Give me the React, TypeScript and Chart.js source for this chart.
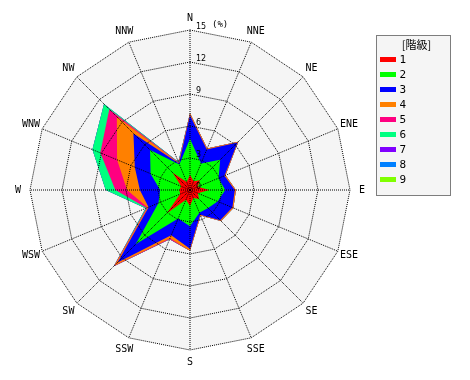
import React, { useEffect, useRef } from "react";
import { Chart, registerables } from "chart.js";

Chart.register(...registerables);

const DIRECTIONS = ["N", "NNE", "NE", "ENE", "E", "ESE", "SE", "SSE", "S", "SSW", "SW", "WSW", "W", "WNW", "NW", "NNW"];
const CLASS_LABELS = ["1", "2", "3", "4", "5", "6", "7", "8", "9"];
const CLASS_COLORS = ["#ff0000", "#00ff00", "#0000ff", "#ff8000", "#ff0080", "#00ff80", "#8000ff", "#0080ff", "#80ff00"];
const TICK_VALUES = [0, 3, 6, 9, 12, 15];
const LEGEND_TITLE = "[階級]";
const UNIT_LABEL = "(%)";

// frequency (%) of each class, per direction (N ... NNW)
const CLASS1 = [1.4, 0.9, 1.3, 0.8, 1.8, 0.8, 1.2, 0.8, 1.5, 1.0, 3.1, 1.0, 1.0, 0.9, 2.3, 0.8];
const CLASS2 = [3.4, 1.8, 2.7, 2.1, 1.5, 2.0, 1.2, 1.5, 1.9, 1.9, 4.1, 2.2, 1.8, 3.1, 3.0, 1.8];
const CLASS3 = [2.2, 1.4, 2.3, 0.6, 0.9, 1.5, 1.6, 0.2, 2.1, 1.7, 2.4, 1.0, 1.9, 1.6, 2.2, 0.1];
const CLASS4 = [0.2, 0.1, 0.1, 0.1, 0.1, 0.1, 0.1, 0.1, 0.2, 0.3, 0.4, 0.1, 1.2, 1.8, 2.2, 0.05];
const CLASS5 = [0, 0, 0, 0, 0, 0, 0, 0, 0, 0.1, 0.1, 0.1, 1.1, 1.7, 1.0, 0.05];
const CLASS6 = [0, 0, 0, 0, 0, 0, 0, 0, 0, 0, 0, 0.1, 0.9, 0.8, 0.7, 0.05];
const CLASS7 = [0, 0, 0, 0, 0, 0, 0, 0, 0, 0, 0, 0, 0, 0, 0, 0];
const CLASS8 = [0, 0, 0, 0, 0, 0, 0, 0, 0, 0, 0, 0, 0, 0, 0, 0];
const CLASS9 = [0, 0, 0, 0, 0, 0, 0, 0, 0, 0, 0, 0, 0, 0, 0, 0];

const CLASSES = [CLASS1, CLASS2, CLASS3, CLASS4, CLASS5, CLASS6, CLASS7, CLASS8, CLASS9];

function cumulative(k: number): number[] {
  return DIRECTIONS.map((_, i) => {
    let s = 0;
    for (let c = 0; c <= k; c++) s += CLASSES[c][i];
    return Math.round(s * 100) / 100;
  });
}

const MONO = "'DejaVu Sans Mono', monospace";

const backgroundPlugin = {
  id: "radarBackground",
  beforeDatasetsDraw(chart: any) {
    const s = chart.scales.r;
    const ctx = chart.ctx;
    ctx.save();
    ctx.beginPath();
    for (let i = 0; i < DIRECTIONS.length; i++) {
      const p = s.getPointPosition(i, s.drawingArea);
      if (i === 0) ctx.moveTo(p.x, p.y);
      else ctx.lineTo(p.x, p.y);
    }
    ctx.closePath();
    ctx.fillStyle = "#f5f5f5";
    ctx.fill();
    ctx.restore();
  },
};

const labelsPlugin = {
  id: "radarLabels",
  afterDraw(chart: any) {
    const s = chart.scales.r;
    const ctx = chart.ctx;
    ctx.save();
    // direction labels, centred on a circle outside the grid
    ctx.fillStyle = "#000";
    ctx.font = `10px ${MONO}`;
    ctx.textAlign = "center";
    ctx.textBaseline = "middle";
    DIRECTIONS.forEach((d, i) => {
      const p = s.getPointPosition(i, s.drawingArea + 12);
      ctx.fillText(d, p.x, p.y);
    });
    // tick labels next to the north axis
    ctx.font = "8px 'DejaVu Sans'";
    ctx.textAlign = "left";
    ctx.textBaseline = "bottom";
    TICK_VALUES.forEach((v) => {
      const r = s.getDistanceFromCenterForValue(v);
      ctx.fillText(String(v), s.xCenter + 6, s.yCenter - r + 1);
    });
    const rMax = s.getDistanceFromCenterForValue(TICK_VALUES[TICK_VALUES.length - 1]);
    ctx.font = `9px ${MONO}`;
    ctx.fillText(UNIT_LABEL, s.xCenter + 22, s.yCenter - rMax - 1);
    ctx.restore();
  },
};

const legendPlugin = {
  id: "classLegend",
  afterDraw(chart: any) {
    const ctx = chart.ctx;
    const x = 376.5, y = 35.5, w = 74, h = 160;
    ctx.save();
    ctx.fillStyle = "#f5f5f5";
    ctx.fillRect(x, y, w, h);
    ctx.strokeStyle = "#000";
    ctx.lineWidth = 1;
    ctx.setLineDash([1, 1]);
    ctx.strokeRect(x, y, w, h);
    ctx.setLineDash([]);
    ctx.fillStyle = "#000";
    ctx.font = "11px 'Noto Sans CJK JP'";
    ctx.textAlign = "center";
    ctx.textBaseline = "middle";
    ctx.fillText(LEGEND_TITLE, x + w / 2 + 3, y + 9);
    ctx.font = `11px ${MONO}`;
    ctx.textAlign = "left";
    chart.data.datasets.forEach((ds: any, i: number) => {
      const cy = y + 24 + i * 15;
      ctx.fillStyle = ds.backgroundColor;
      ctx.fillRect(x + 3.5, cy - 2.5, 16, 5);
      ctx.fillStyle = "#000";
      ctx.fillText(ds.label, x + 23, cy + 0.5);
    });
    ctx.restore();
  },
};

export default function App() {
  const ref = useRef<HTMLCanvasElement | null>(null);

  useEffect(() => {
    if (!ref.current) return;
    const datasets = CLASS_LABELS.map((label, k) => ({
      label,
      data: cumulative(k),
      backgroundColor: CLASS_COLORS[k],
      borderColor: CLASS_COLORS[k],
      borderWidth: 0,
      pointRadius: 0,
      pointHoverRadius: 0,
      fill: true,
    }));
    const chart = new Chart(ref.current, {
      type: "radar",
      data: { labels: DIRECTIONS, datasets },
      options: {
        animation: false,
        responsive: false,
        devicePixelRatio: 1,
        layout: { padding: { left: 30, top: 30, right: 120, bottom: 30 } },
        elements: { line: { tension: 0, borderWidth: 0 } },
        plugins: { legend: { display: false }, tooltip: { enabled: false } },
        scales: {
          r: {
            min: 0,
            max: 15,
            ticks: { stepSize: 3, display: false },
            pointLabels: { display: false },
            grid: { color: "#000", lineWidth: 1, circular: false, z: 1 },
            border: { dash: [1, 1] },
            angleLines: { display: true, color: "#000", lineWidth: 1, borderDash: [1, 1] },
          },
        },
      } as any,
      plugins: [backgroundPlugin, labelsPlugin, legendPlugin],
    });
    return () => chart.destroy();
  }, []);

  return (
    <div style={{ position: "fixed", left: 0, top: 0, width: 470, height: 380, background: "#fff" }}>
      <canvas ref={ref} width={470} height={380} />
    </div>
  );
}
